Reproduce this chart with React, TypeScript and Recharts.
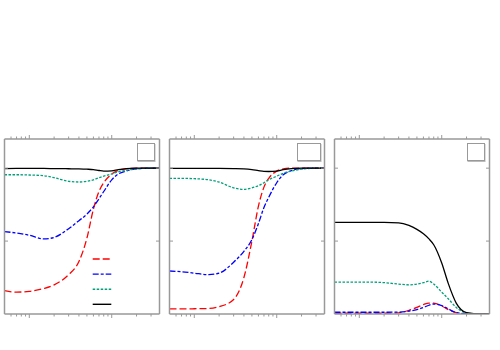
import React from 'react';
import { LineChart, Line, XAxis, YAxis, Legend } from 'recharts';

// x grid (log axis) shared by all panels
const xs = [0.5, 0.7, 1, 1.5, 2, 3, 4, 5, 6, 7, 8, 10, 12, 15, 20, 30, 38];

// panel 1
const red1 = [0.16, 0.15, 0.155, 0.175, 0.2, 0.27, 0.36, 0.52, 0.72, 0.84, 0.9, 0.96, 0.985, 0.995, 1, 1, 1];
const blue1 = [0.565, 0.555, 0.54, 0.515, 0.525, 0.585, 0.64, 0.685, 0.735, 0.79, 0.84, 0.92, 0.96, 0.98, 0.995, 1, 1];
const green1 = [0.955, 0.955, 0.953, 0.948, 0.935, 0.91, 0.905, 0.91, 0.92, 0.935, 0.945, 0.96, 0.975, 0.985, 0.995, 1, 1];
const black1 = [0.997, 0.998, 0.998, 0.998, 0.997, 0.996, 0.995, 0.993, 0.99, 0.984, 0.98, 0.982, 0.99, 0.997, 1, 1, 1];

// panel 2
const red2 = [0.035, 0.035, 0.036, 0.038, 0.05, 0.1, 0.25, 0.5, 0.74, 0.87, 0.93, 0.98, 0.995, 1, 1, 1, 1];
const blue2 = [0.295, 0.29, 0.28, 0.27, 0.28, 0.355, 0.43, 0.51, 0.62, 0.73, 0.8, 0.9, 0.955, 0.983, 0.997, 1, 1];
const green2 = [0.93, 0.93, 0.928, 0.92, 0.905, 0.865, 0.855, 0.865, 0.88, 0.9, 0.92, 0.945, 0.965, 0.98, 0.993, 1, 1];
const black2 = [0.998, 0.998, 0.998, 0.998, 0.998, 0.997, 0.995, 0.99, 0.983, 0.978, 0.977, 0.98, 0.99, 0.997, 1, 1, 1];

// panel 3
const red3 = [0.005, 0.005, 0.005, 0.005, 0.005, 0.008, 0.025, 0.045, 0.065, 0.075, 0.075, 0.055, 0.03, 0.01, 0, 0, 0];
const blue3 = [0.012, 0.012, 0.012, 0.012, 0.012, 0.013, 0.02, 0.03, 0.045, 0.06, 0.068, 0.058, 0.035, 0.01, 0.002, 0, 0];
const green3 = [0.218, 0.218, 0.218, 0.218, 0.215, 0.205, 0.2, 0.205, 0.215, 0.225, 0.205, 0.15, 0.105, 0.045, 0.008, 0, 0];
const black3 = [0.628, 0.628, 0.628, 0.628, 0.628, 0.625, 0.607, 0.58, 0.55, 0.515, 0.475, 0.35, 0.21, 0.075, 0.01, 0, 0];

const majorTicks = [1, 10];
const minorTicks = [0.6, 0.7, 0.8, 0.9, 2, 3, 4, 5, 6, 7, 8, 9, 20, 30];
const xTicks = [...minorTicks, ...majorTicks].sort((a, b) => a - b);
const yTicks = [0.5, 1];

const series = [
  { key: 'red', name: 'red', color: '#ff0000', dash: '7 3' },
  { key: 'blue', name: 'blue', color: '#0000ff', dash: '6 2 3 2' },
  { key: 'green', name: 'green', color: '#00a07a', dash: '2.5 1.5' },
  { key: 'black', name: 'black', color: '#000000', dash: undefined as string | undefined },
];

const build = (r: number[], b: number[], g: number[], k: number[]) =>
  xs.map((x, i) => ({ x, red: r[i], blue: b[i], green: g[i], black: k[i] }));

const panels = [
  { data: build(red1, blue1, green1, black1), boxLeft: 136.5, boxWidth: 18.5, legend: true },
  { data: build(red2, blue2, green2, black2), boxLeft: 132.3, boxWidth: 24, legend: false },
  { data: build(red3, blue3, green3, black3), boxLeft: 136.5, boxWidth: 18.5, legend: false },
];

const frame = { stroke: '#999', strokeWidth: 1.5 };

const xTick = (side: 'top' | 'bottom') => (props: any) => {
  const { x, y, payload } = props;
  const len = majorTicks.includes(payload.value) ? 4 : 2.5;
  const dir = side === 'top' ? -1 : 1;
  return <line x1={x} y1={y} x2={x} y2={y + dir * len} stroke="#999" strokeWidth={1} />;
};

const yTick = (side: 'left' | 'right') => (props: any) => {
  const { x, y } = props;
  const dir = side === 'left' ? 1 : -1;
  return <line x1={x} y1={y} x2={x + dir * 3.5} y2={y} stroke="#999" strokeWidth={1} />;
};

// legend samples only (the reference carries no legend text)
const LegendSamples = () => (
  <svg width={24} height={60}>
    {series.map((s, i) => (
      <line key={s.key} x1={2.7} x2={21.3} y1={7 + i * 15.1} y2={7 + i * 15.1}
        stroke={s.color} strokeWidth={1.4} strokeDasharray={s.dash} />
    ))}
  </svg>
);

const Panel = ({ data, legend }: { data: any[]; legend: boolean }) => (
  <LineChart width={165} height={350} data={data} margin={{ top: 138, right: 4.5, bottom: 35, left: 3.5 }}>
    <XAxis xAxisId="b" dataKey="x" type="number" scale="log" domain={[0.5, 38]} allowDataOverflow
      ticks={xTicks} interval={0} height={1} tickSize={0} tickMargin={0} tickLine={false}
      axisLine={frame} tick={xTick('bottom')} orientation="bottom" />
    <XAxis xAxisId="t" dataKey="x" type="number" scale="log" domain={[0.5, 38]} allowDataOverflow
      ticks={xTicks} interval={0} height={1} tickSize={0} tickMargin={0} tickLine={false}
      axisLine={frame} tick={xTick('top')} orientation="top" />
    <YAxis yAxisId="l" type="number" domain={[0, 1.2]} allowDataOverflow ticks={yTicks} interval={0}
      width={1} tickSize={0} tickMargin={0} tickLine={false} axisLine={frame} tick={yTick('left')} orientation="left" />
    <YAxis yAxisId="r" type="number" domain={[0, 1.2]} allowDataOverflow ticks={yTicks} interval={0}
      width={1} tickSize={0} tickMargin={0} tickLine={false} axisLine={frame} tick={yTick('right')} orientation="right" />
    {series.map((s) => (
      <Line key={s.key} xAxisId="b" yAxisId="l" type="monotone" dataKey={s.key} name={s.name}
        stroke={s.color} strokeWidth={1.3} strokeDasharray={s.dash} dot={false} isAnimationActive={false} />
    ))}
    {legend && (
      <Legend layout="vertical" align="center" verticalAlign="middle" content={LegendSamples}
        wrapperStyle={{ left: 90, top: 252, width: 24, height: 60 }} />
    )}
  </LineChart>
);

export default function App() {
  return (
    <div style={{ position: 'absolute', left: 0, top: 0, width: 500, height: 350, background: '#fff' }}>
      {panels.map((p, i) => (
        <div key={i} style={{ position: 'absolute', left: i * 165, top: 0, width: 165, height: 350 }}>
          <Panel data={p.data} legend={p.legend} />
          <div style={{
            position: 'absolute', left: p.boxLeft, top: 143.3, width: p.boxWidth, height: 17.5,
            boxSizing: 'border-box', border: '1px solid #999', boxShadow: '0.5px 1px 0 #bbb', background: '#fff',
          }} />
        </div>
      ))}
    </div>
  );
}
